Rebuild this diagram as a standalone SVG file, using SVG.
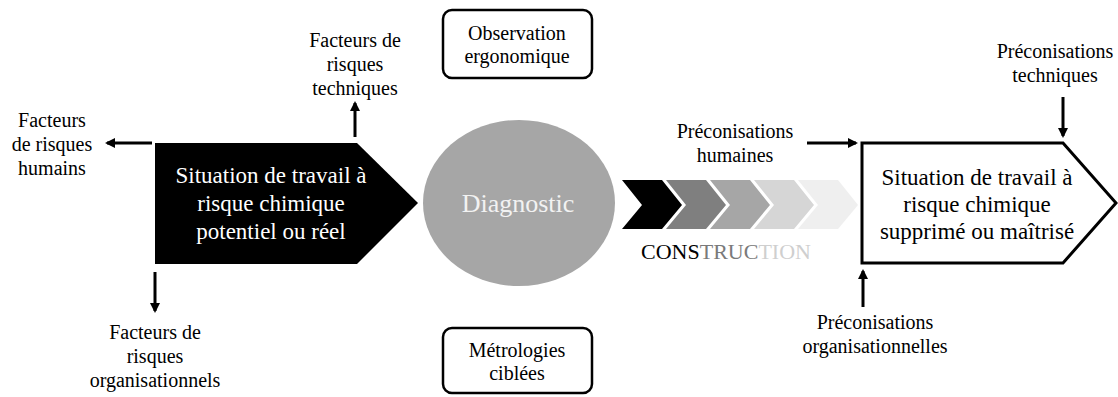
<svg xmlns="http://www.w3.org/2000/svg" width="1118" height="397" viewBox="0 0 1118 397">
<defs>
<style>
text{font-family:'Liberation Serif','Times New Roman','DejaVu Serif',serif}
.t{font-size:20px;fill:#000;text-anchor:middle}
.big{font-size:23px}
.con{stroke:#000;stroke-width:3;fill:none}
.box{fill:#fff;stroke:#000;stroke-width:2.5}
</style>
<marker id="ah" viewBox="0 0 10 10" refX="8" refY="5" markerWidth="10" markerHeight="10" markerUnits="userSpaceOnUse" orient="auto">
<path d="M0,0 L10,5 L0,10 z" fill="#000"/>
</marker>
</defs>
<rect width="1118" height="397" fill="#fff"/>

<g id="situation-initiale" font-family="Liberation Serif, serif">
<path d="M155,143 L357,143 L418,203 L357,264 L155,264 Z" fill="#000"/>
<text class="t big" x="271" y="183" style="fill:#fff">Situation de travail à</text>
<text class="t big" x="271" y="211" style="fill:#fff">risque chimique</text>
<text class="t big" x="271" y="239" style="fill:#fff">potentiel ou réel</text>
</g>

<g id="diagnostic">
<ellipse cx="519" cy="203" rx="96" ry="83" fill="#a6a6a6"/>
<text class="t" x="518" y="212" style="font-size:26px;fill:#f2f2f2">Diagnostic</text>
</g>

<g id="observation">
<rect class="box" x="443" y="10" width="149" height="68" rx="9"/>
<text class="t" x="517" y="40">Observation</text>
<text class="t" x="517" y="63">ergonomique</text>
</g>

<g id="metrologies">
<rect class="box" x="443" y="328" width="149" height="65" rx="9"/>
<text class="t" x="517" y="357">Métrologies</text>
<text class="t" x="517" y="380">ciblées</text>
</g>

<g id="construction">
<path d="M622,180 L662,180 L682,205 L662,229 L622,229 L642,205 Z" fill="#000"/>
<path d="M666,180 L706,180 L726,205 L706,229 L666,229 L686,205 Z" fill="#7f7f7f"/>
<path d="M710,180 L750,180 L770,205 L750,229 L710,229 L730,205 Z" fill="#a6a6a6"/>
<path d="M754,180 L794,180 L814,205 L794,229 L754,229 L774,205 Z" fill="#d6d6d6"/>
<path d="M798,180 L838,180 L858,205 L838,229 L798,229 L818,205 Z" fill="#efefef"/>
<text class="t" x="641" y="259" style="text-anchor:start;font-size:22px"><tspan style="fill:#000">CONS</tspan><tspan style="fill:#7a7a7a">TRUC</tspan><tspan style="fill:#cfcfcf">TION</tspan></text>
</g>

<g id="situation-finale">
<path d="M862,143 L1063,143 L1116,203 L1063,263 L862,263 Z" fill="#fff" stroke="#000" stroke-width="3"/>
<text class="t big" x="977" y="185">Situation de travail à</text>
<text class="t big" x="977" y="212">risque chimique</text>
<text class="t big" x="977" y="239">supprimé ou maîtrisé</text>
</g>

<g id="facteurs-humains">
<text class="t" x="52" y="127">Facteurs</text>
<text class="t" x="52" y="151">de risques</text>
<text class="t" x="52" y="175">humains</text>
</g>

<g id="facteurs-techniques">
<text class="t" x="355" y="47">Facteurs de</text>
<text class="t" x="355" y="71">risques</text>
<text class="t" x="355" y="95">techniques</text>
</g>

<g id="facteurs-organisationnels">
<text class="t" x="155" y="339">Facteurs de</text>
<text class="t" x="155" y="363">risques</text>
<text class="t" x="155" y="387">organisationnels</text>
</g>

<g id="preco-humaines">
<text class="t" x="735" y="138">Préconisations</text>
<text class="t" x="735" y="162">humaines</text>
</g>

<g id="preco-techniques">
<text class="t" x="1055" y="58">Préconisations</text>
<text class="t" x="1055" y="82">techniques</text>
</g>

<g id="preco-organisationnelles">
<text class="t" x="875" y="329">Préconisations</text>
<text class="t" x="875" y="353">organisationnelles</text>
</g>

<g id="connectors">
<line class="con" x1="152" y1="143" x2="107" y2="143" marker-end="url(#ah)"/>
<line class="con" x1="355" y1="137" x2="355" y2="103" marker-end="url(#ah)"/>
<line class="con" x1="155" y1="272" x2="155" y2="311" marker-end="url(#ah)"/>
<line class="con" x1="807" y1="143" x2="856" y2="143" marker-end="url(#ah)"/>
<line class="con" x1="1063" y1="97" x2="1063" y2="136" marker-end="url(#ah)"/>
<line class="con" x1="863" y1="307" x2="863" y2="271" marker-end="url(#ah)"/>
</g>
</svg>
